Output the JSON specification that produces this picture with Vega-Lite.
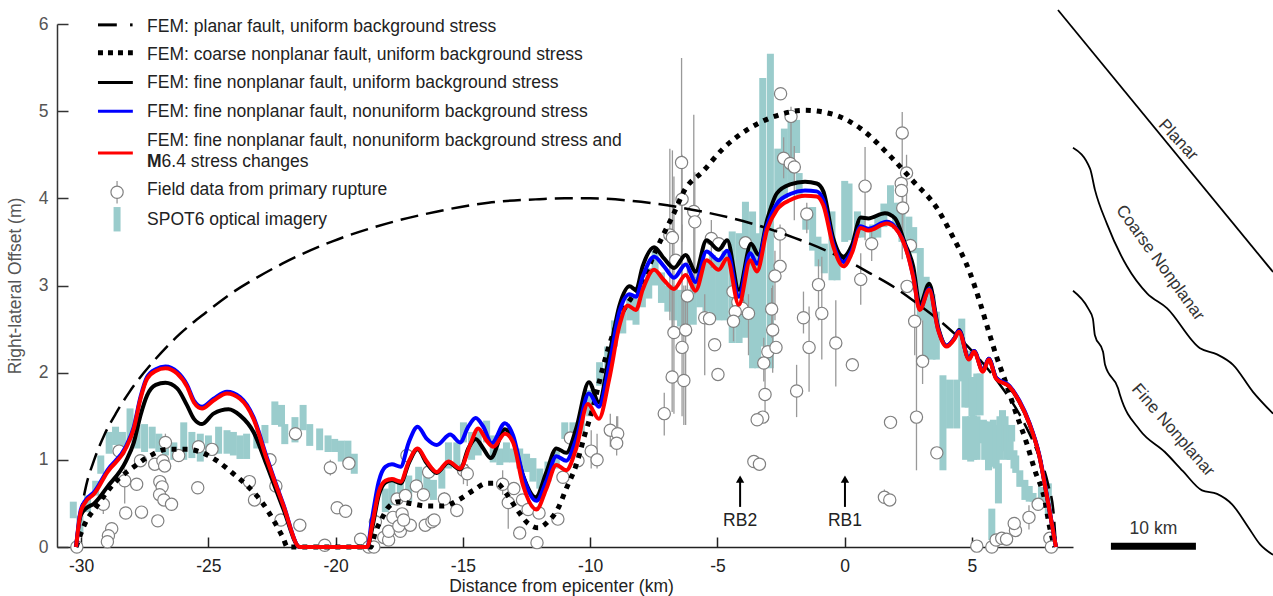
{
"$schema":"https://vega.github.io/schema/vega-lite/v6.json",
"autosize":{"type":"none"},
"padding":{"left":57,"top":24,"right":200,"bottom":49},
"width":1016,"height":523,
"background":"white",
"config":{"view":{"stroke":null},"font":"Liberation Sans"},
"datasets":{
"spot":[
{"x":-30.31,"y":0.33,"y2":0.52},{"x":-30.05,"y":0.17,"y2":0.36},{"x":-29.75,"y":0.4,"y2":0.59},{"x":-29.43,"y":0.59,"y2":0.76},{"x":-29.23,"y":0.84,"y2":1.05},{"x":-28.9,"y":1.07,"y2":1.32},{"x":-28.65,"y":1.17,"y2":1.38},{"x":-28.38,"y":1.09,"y2":1.32},{"x":-28.08,"y":1.2,"y2":1.59},{"x":-27.8,"y":1.13,"y2":1.4},{"x":-27.51,"y":1.09,"y2":1.41},{"x":-27.21,"y":1.13,"y2":1.38},{"x":-26.95,"y":1.09,"y2":1.3},{"x":-26.69,"y":1.05,"y2":1.26},{"x":-26.36,"y":1.0,"y2":1.2},{"x":-25.97,"y":1.0,"y2":1.43},{"x":-25.65,"y":1.02,"y2":1.32},{"x":-25.32,"y":0.98,"y2":1.3},{"x":-25.0,"y":1.05,"y2":1.28},{"x":-24.6,"y":1.07,"y2":1.38},{"x":-24.27,"y":1.07,"y2":1.34},{"x":-24.02,"y":1.05,"y2":1.32},{"x":-23.76,"y":1.01,"y2":1.28},{"x":-23.5,"y":1.01,"y2":1.3},{"x":-23.1,"y":1.13,"y2":1.34},{"x":-22.78,"y":1.19,"y2":1.4},{"x":-22.39,"y":1.4,"y2":1.67},{"x":-22.13,"y":1.38,"y2":1.63},{"x":-22.0,"y":1.18,"y2":1.41},{"x":-21.6,"y":1.2,"y2":1.49},{"x":-21.28,"y":1.34,"y2":1.63},{"x":-21.02,"y":1.16,"y2":1.41},{"x":-20.63,"y":1.11,"y2":1.36},{"x":-20.3,"y":1.09,"y2":1.28},{"x":-20.04,"y":1.09,"y2":1.24},{"x":-19.78,"y":0.98,"y2":1.22},{"x":-19.52,"y":0.96,"y2":1.22},{"x":-19.27,"y":0.84,"y2":1.07},
{"x":-18.05,"y":0.4,"y2":0.67},{"x":-17.79,"y":0.48,"y2":0.75},{"x":-17.46,"y":0.55,"y2":0.78},{"x":-17.13,"y":0.52,"y2":0.82},{"x":-16.74,"y":0.67,"y2":0.92},{"x":-16.42,"y":0.59,"y2":0.86},{"x":-16.16,"y":0.54,"y2":0.77},{"x":-15.83,"y":0.67,"y2":0.9},{"x":-15.57,"y":0.9,"y2":1.2},{"x":-15.24,"y":0.94,"y2":1.2},{"x":-14.98,"y":1.2,"y2":1.43},{"x":-14.66,"y":1.0,"y2":1.32},{"x":-14.4,"y":1.05,"y2":1.36},{"x":-14.07,"y":1.2,"y2":1.45},{"x":-13.81,"y":0.97,"y2":1.28},{"x":-13.55,"y":0.94,"y2":1.13},{"x":-13.29,"y":0.97,"y2":1.2},{"x":-13.03,"y":0.97,"y2":1.13},{"x":-12.77,"y":0.9,"y2":1.13},{"x":-12.5,"y":0.86,"y2":1.07},{"x":-12.25,"y":0.75,"y2":1.02},{"x":-11.98,"y":0.67,"y2":0.9},{"x":-11.66,"y":0.75,"y2":0.98},{"x":-11.33,"y":0.9,"y2":1.1},{"x":-11.0,"y":1.24,"y2":1.43},{"x":-10.68,"y":1.28,"y2":1.43},{"x":-10.35,"y":1.3,"y2":1.5},{"x":-10.02,"y":1.5,"y2":1.8},{"x":-9.63,"y":1.85,"y2":2.12},{"x":-9.31,"y":1.95,"y2":2.3},{"x":-9.05,"y":2.3,"y2":2.6},{"x":-8.72,"y":2.45,"y2":2.7},{"x":-8.45,"y":2.6,"y2":2.85},{"x":-8.2,"y":2.55,"y2":2.85},{"x":-7.95,"y":2.75,"y2":3.0},{"x":-7.7,"y":2.85,"y2":3.2},{"x":-7.45,"y":3.0,"y2":3.4},{"x":-7.2,"y":2.8,"y2":3.15},{"x":-6.95,"y":2.7,"y2":3.0},{"x":-6.7,"y":2.6,"y2":3.0},{"x":-6.45,"y":2.53,"y2":2.95},{"x":-6.2,"y":2.53,"y2":2.95},{"x":-5.95,"y":2.55,"y2":3.1},{"x":-5.7,"y":2.75,"y2":3.2},{"x":-5.45,"y":2.7,"y2":3.3},{"x":-5.2,"y":2.6,"y2":3.35},{"x":-4.95,"y":2.6,"y2":3.3},{"x":-4.7,"y":2.6,"y2":3.4},{"x":-4.42,"y":2.34,"y2":3.62},{"x":-4.15,"y":2.34,"y2":3.6},{"x":-3.9,"y":2.4,"y2":3.96},{"x":-3.62,"y":2.05,"y2":3.85},{"x":-3.42,"y":2.05,"y2":3.6},{"x":-3.22,"y":2.3,"y2":5.38},{"x":-2.92,"y":2.05,"y2":5.66},{"x":-2.63,"y":3.9,"y2":4.57},{"x":-2.37,"y":4.0,"y2":4.8},{"x":-2.11,"y":4.17,"y2":4.94},{"x":-1.89,"y":4.52,"y2":4.9},{"x":-1.79,"y":4.02,"y2":4.29},{"x":-1.53,"y":3.64,"y2":3.83},{"x":-1.26,"y":3.4,"y2":3.9},{"x":-1.05,"y":3.22,"y2":3.56},{"x":-0.8,"y":3.14,"y2":3.48},{"x":-0.5,"y":3.06,"y2":3.85},{"x":-0.3,"y":3.06,"y2":3.33},{"x":0.0,"y":3.5,"y2":4.2},{"x":0.17,"y":3.52,"y2":4.17},{"x":0.5,"y":3.55,"y2":3.85},{"x":0.65,"y":3.55,"y2":3.8},{"x":1.1,"y":3.5,"y2":3.7},{"x":1.3,"y":3.55,"y2":3.8},{"x":1.54,"y":3.67,"y2":3.94},{"x":1.8,"y":3.83,"y2":4.15},{"x":2.0,"y":3.65,"y2":3.95},{"x":2.25,"y":3.5,"y2":3.95},{"x":2.52,"y":3.48,"y2":3.79},{"x":2.71,"y":3.37,"y2":3.67},{"x":2.97,"y":2.6,"y2":3.43},{"x":3.2,"y":2.15,"y2":3.1},{"x":3.43,"y":2.15,"y2":2.9},{"x":3.6,"y":2.15,"y2":2.7},{"x":3.86,"y":0.88,"y2":1.97},{"x":4.12,"y":1.36,"y2":1.92},{"x":4.4,"y":1.36,"y2":1.92},{"x":4.6,"y":1.9,"y2":2.62},{"x":4.72,"y":1.6,"y2":2.1},{"x":4.85,"y":1.6,"y2":2.25},{"x":4.75,"y":1.0,"y2":1.5},{"x":4.95,"y":0.98,"y2":1.5},{"x":5.0,"y":1.5,"y2":1.95},{"x":5.06,"y":1.0,"y2":1.51},{"x":5.2,"y":1.0,"y2":1.5},{"x":5.19,"y":1.51,"y2":1.99},{"x":5.32,"y":1.51,"y2":1.99},{"x":5.45,"y":1.19,"y2":1.46},{"x":5.5,"y":1.0,"y2":1.44},{"x":5.65,"y":0.88,"y2":1.44},{"x":5.84,"y":0.92,"y2":1.46},{"x":5.95,"y":0.9,"y2":1.4},{"x":6.04,"y":0.5,"y2":0.96},{"x":6.1,"y":1.0,"y2":1.5},{"x":6.2,"y":1.15,"y2":1.57},{"x":6.3,"y":1.1,"y2":1.5},{"x":6.36,"y":1.0,"y2":1.4},{"x":6.5,"y":1.0,"y2":1.4},{"x":6.56,"y":1.21,"y2":1.4},{"x":6.65,"y":0.9,"y2":1.11},{"x":6.72,"y":0.85,"y2":1.05},{"x":6.88,"y":0.69,"y2":0.88},{"x":7.08,"y":0.54,"y2":0.77},{"x":7.25,"y":0.52,"y2":0.7},{"x":7.4,"y":0.52,"y2":0.62},{"x":7.73,"y":0.46,"y2":0.69},{"x":8.0,"y":0.35,"y2":0.73},{"x":5.78,"y":0.08,"y2":0.44}
],
"field":[
{"x":-30.17,"y":0},{"x":-29.13,"y":0.49,"low":0.38,"high":0.55},{"x":-28.8,"y":0.21},{"x":-28.93,"y":0.13},{"x":-28.97,"y":0.06},{"x":-28.51,"y":1.1},{"x":-28.29,"y":0.76,"low":0.5,"high":0.9},{"x":-28.25,"y":0.39},{"x":-27.82,"y":0.72},{"x":-27.63,"y":0.4,"low":0.32,"high":0.47},{"x":-27.67,"y":0.99},{"x":-27.11,"y":0.95},{"x":-26.79,"y":0.99},{"x":-26.72,"y":0.93},{"x":-26.91,"y":0.75},{"x":-26.82,"y":0.69},{"x":-26.92,"y":0.6},{"x":-26.75,"y":0.54},{"x":-26.45,"y":0.49},{"x":-26.99,"y":0.3},{"x":-26.69,"y":1.2,"low":1.1,"high":1.3},{"x":-26.17,"y":1.05},{"x":-25.39,"y":1.15},{"x":-24.86,"y":1.12},{"x":-25.42,"y":0.68},{"x":-23.39,"y":0.75},{"x":-23.19,"y":0.54},{"x":-22.58,"y":1.0},{"x":-22.35,"y":0.7},{"x":-22.15,"y":0.31},{"x":-21.41,"y":0.25},{"x":-21.58,"y":1.3},{"x":-20.43,"y":0.02},{"x":-20.21,"y":0.91,"low":0.82,"high":1.0},{"x":-19.94,"y":0.45,"low":0.38,"high":0.52},{"x":-19.61,"y":0.41},{"x":-19.48,"y":0.96},
{"x":-19.02,"y":0.09},{"x":-18.44,"y":0.29},{"x":-18.7,"y":0},{"x":-18.5,"y":0},{"x":-18.11,"y":0.11},{"x":-17.92,"y":0.08},{"x":-17.92,"y":0.18},{"x":-17.46,"y":0.18},{"x":-17.75,"y":0.34},{"x":-17.59,"y":0.55},{"x":-17.26,"y":0.59},{"x":-17.39,"y":0.38},{"x":-17.52,"y":0.24},{"x":-17.07,"y":0.25},{"x":-17.33,"y":0.31},{"x":-16.83,"y":0.7},{"x":-16.55,"y":0.6},{"x":-17.2,"y":1.05},{"x":-16.35,"y":0.86},{"x":-16.48,"y":0.25},{"x":-16.22,"y":0.29},{"x":-16.13,"y":0.31},{"x":-15.73,"y":0.55,"low":0.47,"high":0.63},{"x":-15.24,"y":0.42,"low":0.34,"high":0.5},{"x":-14.98,"y":0.88,"low":0.72,"high":0.98},{"x":-14.83,"y":0.84,"low":0.7,"high":0.95},{"x":-13.44,"y":0.72,"low":0.6,"high":0.88},{"x":-13.22,"y":0.51,"low":0.21,"high":0.6},{"x":-13.0,"y":0.67},{"x":-12.77,"y":0.16},{"x":-12.66,"y":0.54},{"x":-12.44,"y":0.43},{"x":-12.09,"y":0.05},{"x":-12.01,"y":0.39},{"x":-11.27,"y":0.32},{"x":-11.07,"y":0.8},{"x":-10.78,"y":1.25},{"x":-10.48,"y":0.99},{"x":-9.96,"y":1.1,"low":0.9,"high":1.34},{"x":-9.73,"y":1.0,"low":0.9,"high":1.3},{"x":-9.21,"y":1.34,"low":1.15,"high":1.53},{"x":-8.92,"y":1.3,"low":1.15,"high":1.5},{"x":-8.96,"y":1.19,"low":1.05,"high":1.5},
{"x":-7.09,"y":1.53,"low":1.28,"high":1.77},{"x":-6.78,"y":1.95,"low":1.55,"high":3.0},{"x":-6.39,"y":2.29,"low":1.5,"high":3.7},{"x":-6.32,"y":1.91,"low":1.4,"high":3.0},{"x":-6.41,"y":4.41,"low":3.1,"high":5.61},{"x":-6.39,"y":3.99,"low":3.5,"high":4.5},{"x":-5.93,"y":3.85,"low":3.0,"high":4.96},{"x":-5.89,"y":3.73,"low":2.9,"high":4.3},{"x":-6.87,"y":3.58,"low":2.6,"high":4.57},{"x":-6.77,"y":3.55,"low":2.5,"high":4.55},{"x":-6.71,"y":2.46,"low":1.53,"high":4.25},{"x":-6.25,"y":2.49,"low":1.4,"high":3.0},{"x":-6.18,"y":2.88,"low":2.5,"high":3.3},{"x":-6.64,"y":3.29},{"x":-5.24,"y":3.54,"low":3.2,"high":3.75},{"x":-4.95,"y":3.48},{"x":-5.5,"y":2.63,"low":1.97,"high":2.9},{"x":-5.31,"y":2.62},{"x":-4.39,"y":2.93,"low":2.6,"high":3.2},{"x":-4.2,"y":2.81},{"x":-4.03,"y":2.74},{"x":-4.3,"y":2.7},{"x":-3.78,"y":2.68,"low":2.2,"high":2.9},{"x":-4.37,"y":2.59,"low":2.36,"high":2.8},{"x":-3.9,"y":3.49},{"x":-2.54,"y":3.59,"low":3.3,"high":3.7},{"x":-2.54,"y":3.22},{"x":-2.74,"y":3.11,"low":2.6,"high":3.4},{"x":-2.87,"y":2.73,"low":2.4,"high":2.97},{"x":-2.83,"y":2.49,"low":2.0,"high":3.0},{"x":-2.52,"y":5.2},{"x":-2.11,"y":4.94,"low":4.29,"high":5.05},{"x":-2.4,"y":4.46,"low":4.23,"high":4.7},{"x":-2.14,"y":4.4},{"x":-1.98,"y":4.36,"low":3.75,"high":4.6},{"x":-1.49,"y":3.82,"low":3.6,"high":3.95},{"x":-1.03,"y":3.01,"low":2.6,"high":3.3},{"x":-1.62,"y":2.63,"low":2.45,"high":2.93},{"x":-0.9,"y":2.68,"low":2.15,"high":3.33},{"x":0.8,"y":4.14,"low":3.52,"high":4.59},{"x":0.63,"y":3.07,"low":2.78,"high":3.37},{"x":1.06,"y":3.48,"low":3.28,"high":3.65},{"x":2.26,"y":4.75,"low":3.3,"high":4.99},{"x":2.43,"y":4.29,"low":3.9,"high":4.5},{"x":2.22,"y":4.17},{"x":2.23,"y":4.09},{"x":2.28,"y":3.89,"low":3.5,"high":4.1},{"x":2.58,"y":3.46},{"x":2.45,"y":2.99},{"x":2.75,"y":2.59,"low":2.2,"high":3.0},
{"x":-5.11,"y":2.32},{"x":-4.98,"y":1.98},{"x":-3.02,"y":2.24},{"x":-2.7,"y":2.29},{"x":-3.18,"y":2.11,"low":1.9,"high":2.4},{"x":-3.13,"y":1.75,"low":1.5,"high":2.1},{"x":-3.22,"y":1.49},{"x":-3.44,"y":1.46},{"x":-3.57,"y":0.98},{"x":-3.35,"y":0.95},{"x":-1.89,"y":1.79,"low":1.49,"high":2.09},{"x":-1.4,"y":2.29,"low":1.78,"high":2.76},{"x":-0.35,"y":2.34,"low":1.84,"high":2.83},{"x":0.3,"y":2.09},{"x":1.8,"y":1.43},{"x":1.56,"y":0.57,"low":0.5,"high":0.66},{"x":1.77,"y":0.54},{"x":2.82,"y":1.49,"low":0.88,"high":2.53},{"x":3.06,"y":2.13,"low":1.87,"high":2.6},{"x":3.62,"y":1.08},{"x":5.19,"y":0.01},{"x":5.78,"y":0},{"x":5.95,"y":0.08},{"x":6.17,"y":0.1},{"x":6.36,"y":0.09},{"x":6.71,"y":0.19},{"x":6.66,"y":0.27},{"x":7.24,"y":0.34,"low":0.2,"high":0.48},{"x":7.6,"y":0.49},{"x":8.06,"y":0.1},{"x":8.12,"y":0}
],
"planar":[
{"x":-30.2,"y":0},{"x":-30.0,"y":0.41},{"x":-29.8,"y":0.71},{"x":-29.5,"y":0.99},{"x":-29.1,"y":1.28},{"x":-28.6,"y":1.55},{"x":-28.1,"y":1.78},{"x":-27.1,"y":2.15},{"x":-26.1,"y":2.45},{"x":-25.1,"y":2.69},{"x":-24.1,"y":2.91},{"x":-23.1,"y":3.09},{"x":-22.1,"y":3.25},{"x":-20.1,"y":3.51},{"x":-18.0,"y":3.71},{"x":-16.0,"y":3.85},{"x":-14.0,"y":3.95},{"x":-12.0,"y":3.99},{"x":-11.0,"y":4.0},{"x":-10.0,"y":4.0},{"x":-8.0,"y":3.96},{"x":-6.0,"y":3.87},{"x":-4.0,"y":3.74},{"x":-2.0,"y":3.55},{"x":0,"y":3.3},{"x":1,"y":3.14},{"x":2,"y":2.97},{"x":3,"y":2.76},{"x":4,"y":2.53},{"x":5,"y":2.25},{"x":6,"y":1.9},{"x":7,"y":1.45},{"x":7.5,"y":1.14},{"x":8,"y":0.71},{"x":8.2,"y":0.41},{"x":8.3,"y":0}
],
"coarse":[
{"x":-30.2,"y":0},{"x":-29.88,"y":0.25},{"x":-29.36,"y":0.48},{"x":-28.71,"y":0.73},{"x":-27.93,"y":0.92},{"x":-27.27,"y":1.05},{"x":-26.62,"y":1.12},{"x":-25.84,"y":1.12},{"x":-25.32,"y":1.09},{"x":-24.67,"y":0.99},{"x":-24.02,"y":0.84},{"x":-23.43,"y":0.69},{"x":-22.91,"y":0.52},{"x":-22.45,"y":0.31},{"x":-22.06,"y":0.1},{"x":-21.9,"y":0},{"x":-18.63,"y":0},{"x":-18.44,"y":0.17},{"x":-18.18,"y":0.33},{"x":-17.92,"y":0.46},{"x":-17.52,"y":0.52},{"x":-17.07,"y":0.5},{"x":-16.42,"y":0.47},{"x":-15.76,"y":0.47},{"x":-15.18,"y":0.54},{"x":-14.59,"y":0.65},{"x":-14.07,"y":0.73},{"x":-13.68,"y":0.73},{"x":-13.29,"y":0.61},{"x":-12.9,"y":0.44},{"x":-12.44,"y":0.27},{"x":-12.05,"y":0.22},{"x":-11.66,"y":0.29},{"x":-11.27,"y":0.44},{"x":-10.94,"y":0.67},{"x":-10.55,"y":0.94},{"x":-10.22,"y":1.28},{"x":-9.9,"y":1.59},{"x":-9.51,"y":2.05},{"x":-9.12,"y":2.43},{"x":-8.79,"y":2.66},{"x":-8.4,"y":2.85},{"x":-8.0,"y":3.0},{"x":-7.5,"y":3.35},{"x":-7.13,"y":3.58},{"x":-6.74,"y":3.81},{"x":-6.28,"y":4.1},{"x":-5.57,"y":4.31},{"x":-4.78,"y":4.57},{"x":-3.87,"y":4.78},{"x":-2.76,"y":4.94},{"x":-1.59,"y":5.01},{"x":-0.42,"y":4.96},{"x":0.63,"y":4.8},{"x":1.67,"y":4.52},{"x":2.71,"y":4.19},{"x":3.62,"y":3.89},{"x":4.21,"y":3.58},{"x":4.93,"y":3.14},{"x":5.32,"y":2.8},{"x":5.64,"y":2.49},{"x":5.97,"y":2.18},{"x":6.29,"y":1.92},{"x":6.69,"y":1.57},{"x":7.15,"y":1.19},{"x":7.47,"y":0.88},{"x":7.86,"y":0.54},{"x":8.05,"y":0.23},{"x":8.25,"y":0}
],
"black":[
{"x":-30.2,"y":0},{"x":-30.02,"y":0.36},{"x":-29.82,"y":0.44},{"x":-29.49,"y":0.5},{"x":-28.97,"y":0.69},{"x":-28.25,"y":0.98},{"x":-27.93,"y":1.2},{"x":-27.67,"y":1.51},{"x":-27.41,"y":1.74},{"x":-27.07,"y":1.86},{"x":-26.69,"y":1.885},{"x":-26.23,"y":1.82},{"x":-25.84,"y":1.625},{"x":-25.57,"y":1.47},{"x":-25.25,"y":1.41},{"x":-24.8,"y":1.53},{"x":-24.21,"y":1.58},{"x":-23.76,"y":1.51},{"x":-23.23,"y":1.32},{"x":-22.71,"y":0.94},{"x":-22.06,"y":0.44},{"x":-21.41,"y":0},{"x":-18.76,"y":0},{"x":-18.57,"y":0.21},{"x":-18.31,"y":0.59},{"x":-18.05,"y":0.74},{"x":-17.79,"y":0.765},{"x":-17.45,"y":0.73},{"x":-17.13,"y":0.96},{"x":-16.78,"y":1.12},{"x":-16.42,"y":0.96},{"x":-16.03,"y":0.85},{"x":-15.57,"y":0.97},{"x":-15.11,"y":0.89},{"x":-14.79,"y":1.13},{"x":-14.5,"y":1.24},{"x":-14.2,"y":1.13},{"x":-13.91,"y":1.02},{"x":-13.35,"y":1.35},{"x":-13.03,"y":1.22},{"x":-12.64,"y":0.82},{"x":-12.14,"y":0.57},{"x":-11.72,"y":0.86},{"x":-11.33,"y":1.13},{"x":-10.94,"y":1.08},{"x":-10.55,"y":1.36},{"x":-10.05,"y":1.89},{"x":-9.66,"y":1.66},{"x":-9.25,"y":2.2},{"x":-8.85,"y":2.77},{"x":-8.45,"y":2.99},{"x":-8.2,"y":2.95},{"x":-7.94,"y":3.22},{"x":-7.49,"y":3.44},{"x":-7.1,"y":3.31},{"x":-6.71,"y":3.2},{"x":-6.25,"y":3.35},{"x":-5.86,"y":3.16},{"x":-5.43,"y":3.52},{"x":-4.95,"y":3.41},{"x":-4.62,"y":3.52},{"x":-4.16,"y":2.95},{"x":-3.68,"y":3.48},{"x":-3.38,"y":3.35},{"x":-3.05,"y":3.75},{"x":-2.66,"y":4.06},{"x":-2.14,"y":4.16},{"x":-1.56,"y":4.19},{"x":-1.1,"y":4.17},{"x":-0.84,"y":4.08},{"x":-0.45,"y":3.54},{"x":-0.05,"y":3.33},{"x":0.28,"y":3.46},{"x":0.63,"y":3.78},{"x":0.93,"y":3.77},{"x":1.58,"y":3.83},{"x":1.98,"y":3.77},{"x":2.37,"y":3.48},{"x":2.69,"y":3.22},{"x":2.95,"y":2.78},{"x":3.32,"y":3.02},{"x":3.67,"y":2.52},{"x":4.0,"y":2.31},{"x":4.32,"y":2.4},{"x":4.49,"y":2.49},{"x":4.88,"y":2.16},{"x":5.08,"y":2.25},{"x":5.43,"y":2.02},{"x":5.66,"y":2.16},{"x":5.95,"y":1.94},{"x":6.47,"y":1.84},{"x":6.86,"y":1.67},{"x":7.25,"y":1.42},{"x":7.65,"y":1.04},{"x":7.97,"y":0.54},{"x":8.3,"y":0}
],
"blue":[
{"x":-30.2,"y":0},{"x":-30.02,"y":0.42},{"x":-29.82,"y":0.54},{"x":-29.49,"y":0.63},{"x":-28.97,"y":0.88},{"x":-28.25,"y":1.15},{"x":-27.93,"y":1.38},{"x":-27.67,"y":1.72},{"x":-27.41,"y":1.95},{"x":-27.07,"y":2.04},{"x":-26.69,"y":2.07},{"x":-26.23,"y":2.01},{"x":-25.84,"y":1.86},{"x":-25.57,"y":1.68},{"x":-25.25,"y":1.61},{"x":-24.8,"y":1.7},{"x":-24.27,"y":1.78},{"x":-23.76,"y":1.72},{"x":-23.23,"y":1.49},{"x":-22.71,"y":1.03},{"x":-22.06,"y":0.49},{"x":-21.41,"y":0},{"x":-18.76,"y":0},{"x":-18.57,"y":0.33},{"x":-18.31,"y":0.75},{"x":-18.05,"y":0.92},{"x":-17.79,"y":0.95},{"x":-17.45,"y":0.92},{"x":-17.13,"y":1.2},{"x":-16.78,"y":1.38},{"x":-16.42,"y":1.24},{"x":-16.03,"y":1.17},{"x":-15.5,"y":1.29},{"x":-15.11,"y":1.2},{"x":-14.79,"y":1.38},{"x":-14.5,"y":1.48},{"x":-14.2,"y":1.38},{"x":-13.87,"y":1.19},{"x":-13.35,"y":1.42},{"x":-13.03,"y":1.28},{"x":-12.64,"y":0.82},{"x":-12.11,"y":0.53},{"x":-11.72,"y":0.76},{"x":-11.33,"y":1.04},{"x":-10.94,"y":0.99},{"x":-10.55,"y":1.24},{"x":-10.05,"y":1.76},{"x":-9.66,"y":1.61},{"x":-9.25,"y":2.09},{"x":-8.85,"y":2.7},{"x":-8.45,"y":2.9},{"x":-8.2,"y":2.87},{"x":-7.94,"y":3.1},{"x":-7.49,"y":3.33},{"x":-7.1,"y":3.22},{"x":-6.71,"y":3.09},{"x":-6.25,"y":3.24},{"x":-5.86,"y":3.04},{"x":-5.43,"y":3.39},{"x":-4.95,"y":3.29},{"x":-4.62,"y":3.4},{"x":-4.16,"y":2.87},{"x":-3.71,"y":3.37},{"x":-3.45,"y":3.25},{"x":-3.05,"y":3.69},{"x":-2.66,"y":3.94},{"x":-2.14,"y":4.05},{"x":-1.56,"y":4.09},{"x":-1.1,"y":4.08},{"x":-0.84,"y":3.98},{"x":-0.45,"y":3.48},{"x":-0.05,"y":3.27},{"x":0.28,"y":3.4},{"x":0.63,"y":3.68},{"x":0.93,"y":3.65},{"x":1.65,"y":3.73},{"x":1.98,"y":3.67},{"x":2.5,"y":3.34},{"x":2.69,"y":3.11},{"x":2.95,"y":2.73},{"x":3.32,"y":2.96},{"x":3.67,"y":2.5},{"x":4.0,"y":2.31},{"x":4.32,"y":2.4},{"x":4.49,"y":2.48},{"x":4.88,"y":2.16},{"x":5.08,"y":2.25},{"x":5.43,"y":2.02},{"x":5.66,"y":2.16},{"x":5.95,"y":1.94},{"x":6.47,"y":1.85},{"x":6.86,"y":1.68},{"x":7.25,"y":1.43},{"x":7.65,"y":1.05},{"x":7.97,"y":0.55},{"x":8.3,"y":0}
],
"red":[
{"x":-30.2,"y":0},{"x":-30.02,"y":0.4},{"x":-29.82,"y":0.52},{"x":-29.49,"y":0.61},{"x":-28.97,"y":0.86},{"x":-28.25,"y":1.13},{"x":-27.93,"y":1.36},{"x":-27.67,"y":1.7},{"x":-27.41,"y":1.93},{"x":-27.07,"y":2.02},{"x":-26.69,"y":2.05},{"x":-26.23,"y":1.99},{"x":-25.84,"y":1.84},{"x":-25.57,"y":1.66},{"x":-25.25,"y":1.59},{"x":-24.8,"y":1.68},{"x":-24.27,"y":1.76},{"x":-23.76,"y":1.7},{"x":-23.23,"y":1.47},{"x":-22.71,"y":1.01},{"x":-22.06,"y":0.48},{"x":-21.41,"y":0},{"x":-18.76,"y":0},{"x":-18.57,"y":0.25},{"x":-18.31,"y":0.63},{"x":-18.05,"y":0.76},{"x":-17.79,"y":0.78},{"x":-17.45,"y":0.75},{"x":-17.13,"y":0.98},{"x":-16.78,"y":1.13},{"x":-16.42,"y":0.98},{"x":-16.03,"y":0.86},{"x":-15.57,"y":0.98},{"x":-15.11,"y":0.9},{"x":-14.72,"y":1.17},{"x":-14.4,"y":1.36},{"x":-14.07,"y":1.22},{"x":-13.81,"y":1.15},{"x":-13.35,"y":1.3},{"x":-13.03,"y":1.2},{"x":-12.64,"y":0.71},{"x":-12.11,"y":0.43},{"x":-11.72,"y":0.67},{"x":-11.33,"y":0.94},{"x":-10.94,"y":0.88},{"x":-10.55,"y":1.13},{"x":-10.09,"y":1.64},{"x":-9.66,"y":1.47},{"x":-9.25,"y":1.93},{"x":-8.85,"y":2.54},{"x":-8.53,"y":2.77},{"x":-8.2,"y":2.72},{"x":-7.94,"y":2.95},{"x":-7.49,"y":3.18},{"x":-7.1,"y":3.06},{"x":-6.71,"y":2.96},{"x":-6.25,"y":3.12},{"x":-5.86,"y":2.94},{"x":-5.43,"y":3.29},{"x":-4.95,"y":3.18},{"x":-4.62,"y":3.31},{"x":-4.16,"y":2.78},{"x":-3.71,"y":3.29},{"x":-3.45,"y":3.16},{"x":-3.05,"y":3.64},{"x":-2.66,"y":3.87},{"x":-2.14,"y":3.98},{"x":-1.56,"y":4.03},{"x":-1.1,"y":4.02},{"x":-0.84,"y":3.92},{"x":-0.45,"y":3.45},{"x":-0.05,"y":3.22},{"x":0.28,"y":3.37},{"x":0.63,"y":3.66},{"x":0.93,"y":3.63},{"x":1.65,"y":3.71},{"x":1.98,"y":3.66},{"x":2.5,"y":3.33},{"x":2.69,"y":3.1},{"x":2.95,"y":2.72},{"x":3.32,"y":2.95},{"x":3.67,"y":2.49},{"x":4.0,"y":2.3},{"x":4.32,"y":2.39},{"x":4.49,"y":2.47},{"x":4.88,"y":2.15},{"x":5.08,"y":2.24},{"x":5.43,"y":2.01},{"x":5.66,"y":2.15},{"x":5.95,"y":1.93},{"x":6.47,"y":1.84},{"x":6.86,"y":1.67},{"x":7.25,"y":1.42},{"x":7.65,"y":1.04},{"x":7.97,"y":0.54},{"x":8.3,"y":0}
],
"traces":[
{"t":"planar","x":8.38,"y":6.16},{"t":"planar","x":16.83,"y":3.155},
{"t":"coarse","x":8.97,"y":4.58},{"t":"coarse","x":9.64,"y":4.34},{"t":"coarse","x":9.83,"y":4.1},{"t":"coarse","x":10.3,"y":3.71},{"t":"coarse","x":11.09,"y":3.22},{"t":"coarse","x":11.88,"y":2.91},{"t":"coarse","x":12.66,"y":2.74},{"t":"coarse","x":13.96,"y":2.28},{"t":"coarse","x":14.63,"y":2.21},{"t":"coarse","x":15.26,"y":2.09},{"t":"coarse","x":16.04,"y":1.78},{"t":"coarse","x":16.83,"y":1.53},
{"t":"fine","x":8.97,"y":2.94},{"t":"fine","x":9.56,"y":2.74},{"t":"fine","x":9.75,"y":2.62},{"t":"fine","x":9.83,"y":2.43},{"t":"fine","x":10.15,"y":2.24},{"t":"fine","x":10.23,"y":2.09},{"t":"fine","x":10.74,"y":1.82},{"t":"fine","x":10.82,"y":1.74},{"t":"fine","x":11.6,"y":1.34},{"t":"fine","x":12.58,"y":1.09},{"t":"fine","x":13.29,"y":0.87},{"t":"fine","x":14.04,"y":0.65},{"t":"fine","x":14.63,"y":0.61},{"t":"fine","x":15.22,"y":0.49},{"t":"fine","x":15.85,"y":0.23},{"t":"fine","x":16.32,"y":0.03},{"t":"fine","x":16.83,"y":-0.09}
],
"legendText":[
{"x":-27.41,"y":5.97,"label":"FEM: planar fault, uniform background stress"},
{"x":-27.41,"y":5.65,"label":"FEM: coarse nonplanar fault, uniform background stress"},
{"x":-27.41,"y":5.32,"label":"FEM: fine nonplanar fault, uniform background stress"},
{"x":-27.41,"y":4.99,"label":"FEM: fine nonplanar fault, nonuniform background stress"},
{"x":-27.41,"y":4.66,"label":"FEM: fine nonplanar fault, nonuniform background stress and"},
{"x":-26.84,"y":4.42,"label":"6.4 stress changes"},
{"x":-27.41,"y":4.09,"label":"Field data from primary rupture"},
{"x":-27.41,"y":3.75,"label":"SPOT6 optical imagery"},
{"x":-4.11,"y":0.3,"label":"RB2"},
{"x":0.01,"y":0.3,"label":"RB1"}
],
"arrows":[{"x":-4.11,"y":0.46,"y2":0.78},{"x":0.01,"y":0.46,"y2":0.78}]
},
"layer":[
{"data":{"name":"spot"},"mark":{"type":"rule","strokeWidth":7,"color":"#9ACCCC"},
 "encoding":{
  "x":{"field":"x","type":"quantitative","scale":{"domain":[-30.95,8.97],"nice":false,"zero":false},
   "axis":{"values":[-30,-25,-20,-15,-10,-5,0,5],"labelExpr":"''+datum.value","tickSize":-10,"tickColor":"#222","tickWidth":1.5,"domainColor":"#222","domainWidth":1.5,"labelFontSize":17.5,"labelColor":"#222","labelPadding":20,"grid":false,"title":"Distance from epicenter (km)","titleFontSize":17.5,"titleFontWeight":"normal","titleColor":"#222","titlePadding":3,"titleX":504,"labelFlush":false,"labelOverlap":false}},
  "y":{"field":"y","type":"quantitative","scale":{"domain":[0,6],"nice":false,"zero":false},
   "axis":{"values":[0,1,2,3,4,5,6],"labelExpr":"''+datum.value","tickSize":-11,"tickColor":"#333","tickWidth":1.5,"domainColor":"#333","domainWidth":1.5,"labelFontSize":17.5,"labelColor":"#555","labelPadding":20,"grid":false,"title":"Right-lateral Offset (m)","titleFontSize":17.5,"titleFontWeight":"normal","titleColor":"#555","titlePadding":14,"labelFlush":false,"labelOverlap":false}},
  "y2":{"field":"y2"}}},
{"data":{"name":"field"},"transform":[{"filter":"isValid(datum.low)"}],"mark":{"type":"rule","strokeWidth":1.3,"color":"#999999"},
 "encoding":{"x":{"field":"x","type":"quantitative"},"y":{"field":"low","type":"quantitative"},"y2":{"field":"high"}}},
{"data":{"name":"field"},"mark":{"type":"point","filled":true,"fill":"white","stroke":"#808080","strokeWidth":1.2,"size":150,"opacity":1},
 "encoding":{"x":{"field":"x","type":"quantitative"},"y":{"field":"y","type":"quantitative"}}},
{"data":{"name":"planar"},"mark":{"type":"line","color":"black","strokeWidth":2.5,"strokeDash":[18,8],"interpolate":"monotone"},
 "encoding":{"x":{"field":"x","type":"quantitative"},"y":{"field":"y","type":"quantitative"}}},
{"data":{"name":"coarse"},"mark":{"type":"line","color":"black","strokeWidth":5,"strokeDash":[5,6],"interpolate":"monotone"},
 "encoding":{"x":{"field":"x","type":"quantitative"},"y":{"field":"y","type":"quantitative"}}},
{"data":{"name":"black"},"mark":{"type":"line","color":"black","strokeWidth":4,"interpolate":"monotone"},
 "encoding":{"x":{"field":"x","type":"quantitative"},"y":{"field":"y","type":"quantitative"}}},
{"data":{"name":"blue"},"mark":{"type":"line","color":"#0000FF","strokeWidth":4,"interpolate":"monotone"},
 "encoding":{"x":{"field":"x","type":"quantitative"},"y":{"field":"y","type":"quantitative"}}},
{"data":{"name":"red"},"mark":{"type":"line","color":"#FF0000","strokeWidth":4,"interpolate":"monotone"},
 "encoding":{"x":{"field":"x","type":"quantitative"},"y":{"field":"y","type":"quantitative"}}},
{"data":{"name":"traces"},"mark":{"type":"line","color":"black","strokeWidth":1.8,"interpolate":"monotone"},
 "encoding":{"x":{"field":"x","type":"quantitative"},"y":{"field":"y","type":"quantitative"},"detail":{"field":"t"}}},
{"data":{"values":[{"x":-29.34,"y":5.99},{"x":-28.6,"y":5.99}]},"mark":{"type":"line","color":"black","strokeWidth":3},
 "encoding":{"x":{"field":"x","type":"quantitative"},"y":{"field":"y","type":"quantitative"}}},
{"data":{"values":[{"x":-28.08,"y":5.99},{"x":-27.98,"y":5.99}]},"mark":{"type":"line","color":"black","strokeWidth":3},
 "encoding":{"x":{"field":"x","type":"quantitative"},"y":{"field":"y","type":"quantitative"}}},
{"data":{"values":[{"x":-29.34,"y":5.67},{"x":-27.97,"y":5.67}]},"mark":{"type":"line","color":"black","strokeWidth":5,"strokeDash":[5,5]},
 "encoding":{"x":{"field":"x","type":"quantitative"},"y":{"field":"y","type":"quantitative"}}},
{"data":{"values":[{"x":-29.34,"y":5.33},{"x":-27.97,"y":5.33}]},"mark":{"type":"line","color":"black","strokeWidth":3},
 "encoding":{"x":{"field":"x","type":"quantitative"},"y":{"field":"y","type":"quantitative"}}},
{"data":{"values":[{"x":-29.34,"y":5.0},{"x":-27.97,"y":5.0}]},"mark":{"type":"line","color":"#0000FF","strokeWidth":3},
 "encoding":{"x":{"field":"x","type":"quantitative"},"y":{"field":"y","type":"quantitative"}}},
{"data":{"values":[{"x":-29.34,"y":4.52},{"x":-27.97,"y":4.52}]},"mark":{"type":"line","color":"#FF0000","strokeWidth":3},
 "encoding":{"x":{"field":"x","type":"quantitative"},"y":{"field":"y","type":"quantitative"}}},
{"data":{"values":[{"x":-28.59,"y":3.94,"y2":4.2}]},"mark":{"type":"rule","strokeWidth":1.3,"color":"#999999"},
 "encoding":{"x":{"field":"x","type":"quantitative"},"y":{"field":"y","type":"quantitative"},"y2":{"field":"y2"}}},
{"data":{"values":[{"x":-28.59,"y":4.07}]},"mark":{"type":"point","filled":true,"fill":"white","stroke":"#808080","strokeWidth":1.2,"size":150,"opacity":1},
 "encoding":{"x":{"field":"x","type":"quantitative"},"y":{"field":"y","type":"quantitative"}}},
{"data":{"values":[{"x":-28.59,"y":3.62,"y2":3.9}]},"mark":{"type":"rule","strokeWidth":7,"color":"#9ACCCC"},
 "encoding":{"x":{"field":"x","type":"quantitative"},"y":{"field":"y","type":"quantitative"},"y2":{"field":"y2"}}},
{"data":{"name":"legendText"},"transform":[{"filter":"datum.x<-20"}],"mark":{"type":"text","align":"left","baseline":"middle","fontSize":17.5,"color":"#222"},
 "encoding":{"x":{"field":"x","type":"quantitative"},"y":{"field":"y","type":"quantitative"},"text":{"field":"label"}}},
{"data":{"values":[{"x":-27.41,"y":4.42,"label":"M"}]},"mark":{"type":"text","align":"left","baseline":"middle","fontSize":17.5,"fontWeight":"bold","color":"#222"},
 "encoding":{"x":{"field":"x","type":"quantitative"},"y":{"field":"y","type":"quantitative"},"text":{"field":"label"}}},
{"data":{"name":"legendText"},"transform":[{"filter":"datum.x>-20"}],"mark":{"type":"text","align":"center","baseline":"middle","fontSize":17.5,"color":"#222"},
 "encoding":{"x":{"field":"x","type":"quantitative"},"y":{"field":"y","type":"quantitative"},"text":{"field":"label"}}},
{"data":{"name":"arrows"},"mark":{"type":"rule","strokeWidth":2,"color":"black"},
 "encoding":{"x":{"field":"x","type":"quantitative"},"y":{"field":"y","type":"quantitative"},"y2":{"field":"y2"}}},
{"data":{"name":"arrows"},"mark":{"type":"point","shape":"triangle-up","filled":true,"color":"black","size":70,"opacity":1},
 "encoding":{"x":{"field":"x","type":"quantitative"},"y":{"field":"y2","type":"quantitative"}}},
{"data":{"values":[{"x":10.46,"y":0.01},{"x":13.8,"y":0.01}]},"mark":{"type":"line","color":"black","strokeWidth":7},
 "encoding":{"x":{"field":"x","type":"quantitative"},"y":{"field":"y","type":"quantitative"}}},
{"data":{"values":[{"x":12.13,"y":0.21,"label":"10 km"}]},"mark":{"type":"text","align":"center","baseline":"middle","fontSize":17.5,"color":"#333"},
 "encoding":{"x":{"field":"x","type":"quantitative"},"y":{"field":"y","type":"quantitative"},"text":{"field":"label"}}},
{"data":{"values":[{"x":13.1,"y":4.67,"label":"Planar"}]},"mark":{"type":"text","align":"center","baseline":"middle","fontSize":17,"color":"#333","angle":47},
 "encoding":{"x":{"field":"x","type":"quantitative"},"y":{"field":"y","type":"quantitative"},"text":{"field":"label"}}},
{"data":{"values":[{"x":12.39,"y":3.26,"label":"Coarse Nonplanar"}]},"mark":{"type":"text","align":"center","baseline":"middle","fontSize":17,"color":"#333","angle":54},
 "encoding":{"x":{"field":"x","type":"quantitative"},"y":{"field":"y","type":"quantitative"},"text":{"field":"label"}}},
{"data":{"values":[{"x":12.9,"y":1.34,"label":"Fine Nonplanar"}]},"mark":{"type":"text","align":"center","baseline":"middle","fontSize":17,"color":"#333","angle":49},
 "encoding":{"x":{"field":"x","type":"quantitative"},"y":{"field":"y","type":"quantitative"},"text":{"field":"label"}}}
]
}
